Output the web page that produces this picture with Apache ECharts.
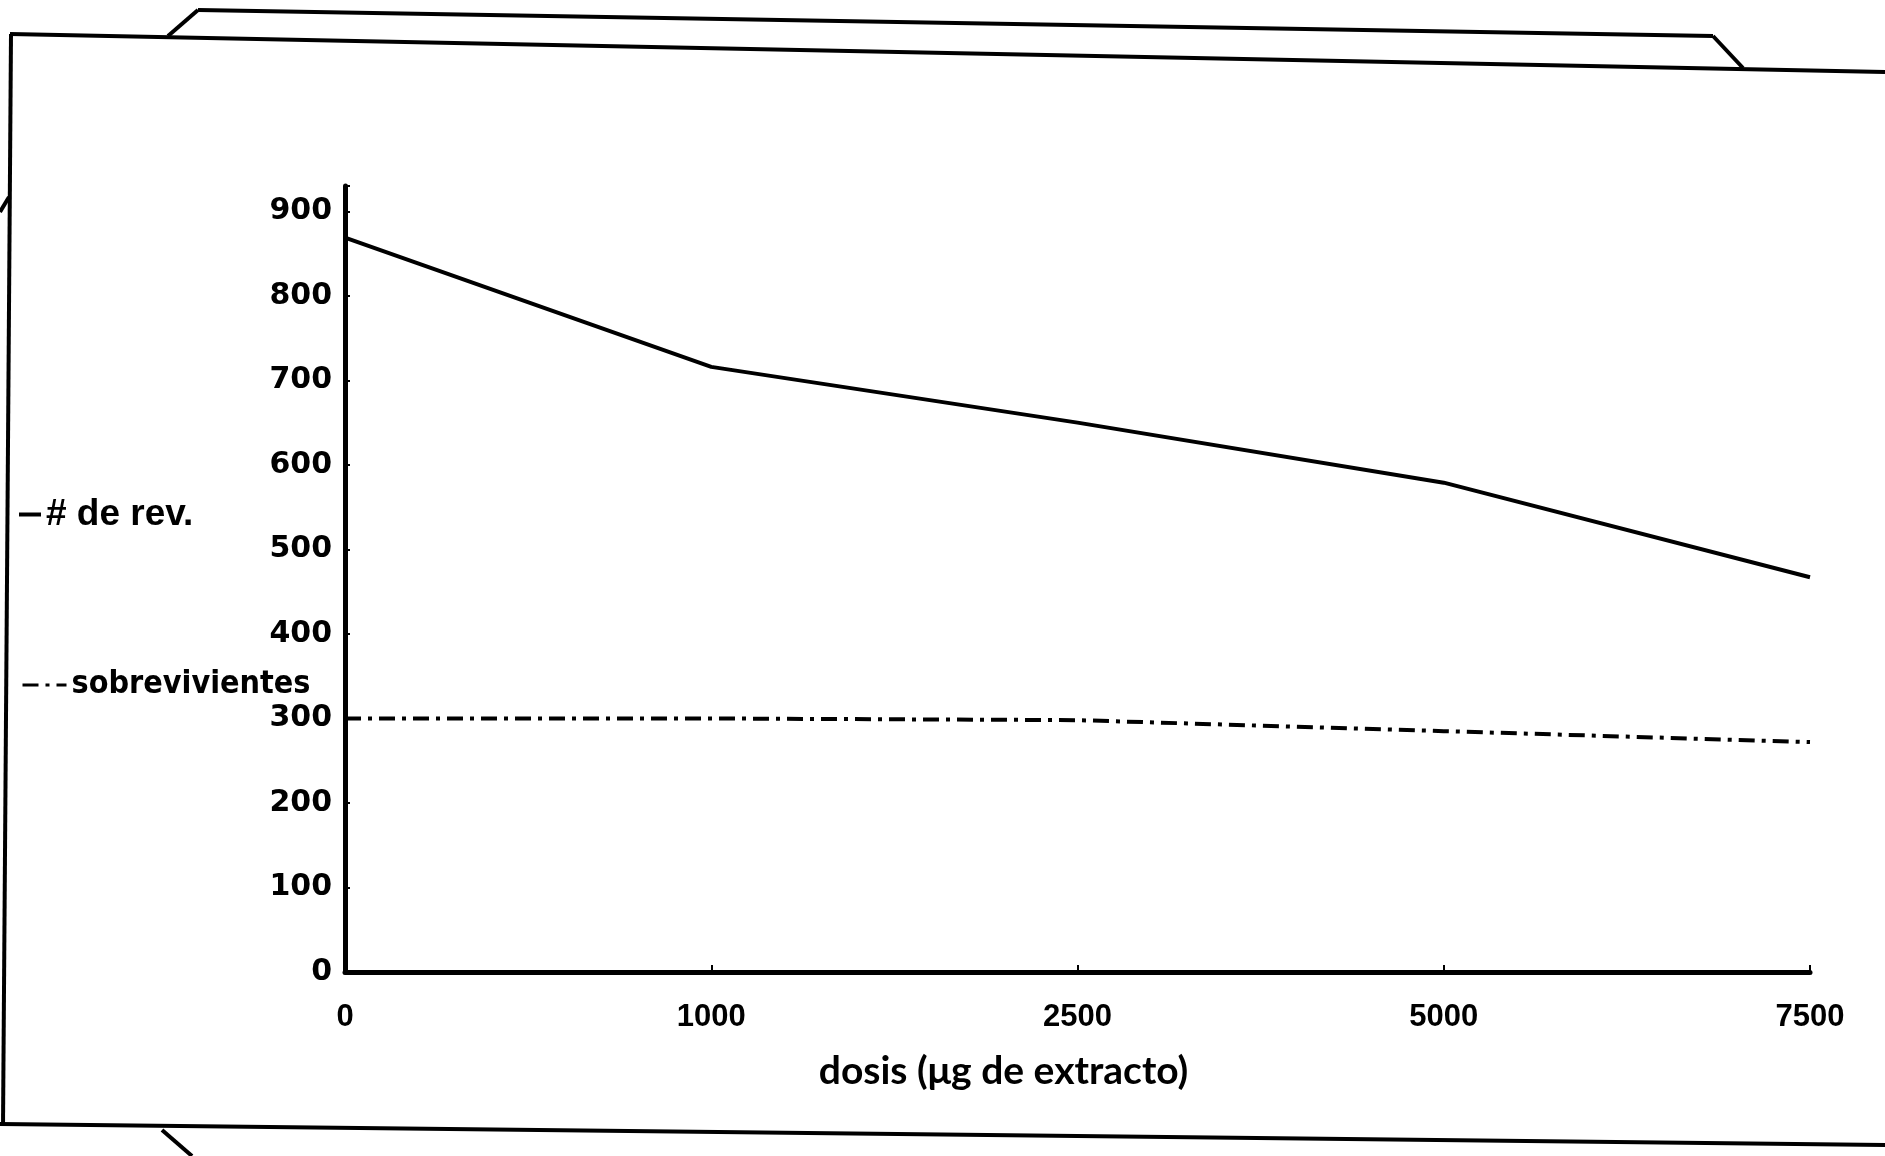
<!DOCTYPE html>
<html>
<head>
<meta charset="utf-8">
<title>dosis</title>
<script src="https://cdn.jsdelivr.net/npm/echarts@6/dist/echarts.min.js"></script>
<style>
  html, body { margin: 0; padding: 0; background: #fff; }
  #chart { width: 1885px; height: 1156px; }
</style>
</head>
<body>
<div id="chart"></div>
<script>
const doses = ['0', '1000', '2500', '5000', '7500']
const revertants = [869, 716, 650, 579, 467]
const survivors = [300, 300, 298, 285, 272]
const yMax = 930
const yStep = 100

const ink = '#000'

// scan frame around the figure
const frame = [
  [10, 34, 1885, 72],
  [11, 34, 3, 1124],
  [0, 1124, 1885, 1145],
  [168, 36, 198, 10],
  [198, 10, 1713, 36],
  [1713, 36, 1743, 68],
  [162, 1130, 192, 1156],
  [0, 212, 9, 197],
]

const chart = echarts.init(document.getElementById('chart'))

chart.setOption({
  backgroundColor: '#fff',
  animation: false,
  grid: {
    left: 345,
    right: 75,
    top: 186,
    bottom: 184,
  },
  legend: [
    {
      data: ['# de rev.'],
      left: 12,
      top: 491,
      itemWidth: 22,
      itemHeight: 14,
      itemStyle: { opacity: 0 },
      lineStyle: { width: 4 },
      textStyle: {
        fontFamily: 'Liberation Sans',
        fontWeight: 'bold',
        fontSize: 37,
        color: ink,
      },
    },
    {
      data: ['sobrevivientes'],
      left: 16,
      top: 664,
      itemWidth: 44,
      itemHeight: 14,
      itemStyle: { opacity: 0 },
      lineStyle: { width: 3 },
      textStyle: {
        fontFamily: "'DejaVu Sans Condensed', 'Liberation Sans'",
        fontWeight: 'bold',
        fontSize: 32,
        color: ink,
      },
    },
  ],
  xAxis: {
    type: 'category',
    data: doses,
    boundaryGap: false,
    name: 'dosis (μg de extracto)',
    nameLocation: 'middle',
    nameGap: 80,
    nameTextStyle: {
      fontFamily: 'Lato',
      fontWeight: 'bold',
      fontSize: 39,
      color: ink,
      padding: [0, 148, 0, 0],
    },
    axisLine: { lineStyle: { color: ink, width: 5 } },
    axisTick: { inside: true, length: 7, lineStyle: { color: ink, width: 2 } },
    axisLabel: {
      margin: 30,
      fontFamily: 'Liberation Sans',
      fontWeight: 'bold',
      fontSize: 31,
      color: ink,
    },
    splitLine: { show: false },
  },
  yAxis: {
    type: 'value',
    min: 0,
    max: yMax,
    interval: yStep,
    axisLine: { show: true, lineStyle: { color: ink, width: 5 } },
    axisTick: { show: true, inside: true, length: 5, lineStyle: { color: ink, width: 2 } },
    axisLabel: {
      margin: 13,
      fontFamily: 'DejaVu Sans',
      fontWeight: 'bold',
      fontSize: 30,
      color: ink,
      formatter: (v) => (v % yStep === 0 ? String(v) : ''),
    },
    splitLine: { show: false },
  },
  series: [
    {
      name: '# de rev.',
      type: 'line',
      data: revertants,
      symbol: 'none',
      color: ink,
      lineStyle: { color: ink, width: 4 },
    },
    {
      name: 'sobrevivientes',
      type: 'line',
      data: survivors,
      symbol: 'none',
      color: ink,
      lineStyle: { color: ink, width: 4, type: [16, 7, 4, 7] },
    },
  ],
  graphic: frame.map(([x1, y1, x2, y2]) => ({
    type: 'line',
    shape: { x1, y1, x2, y2 },
    style: { stroke: ink, lineWidth: 4 },
    silent: true,
  })),
})
</script>
</body>
</html>
